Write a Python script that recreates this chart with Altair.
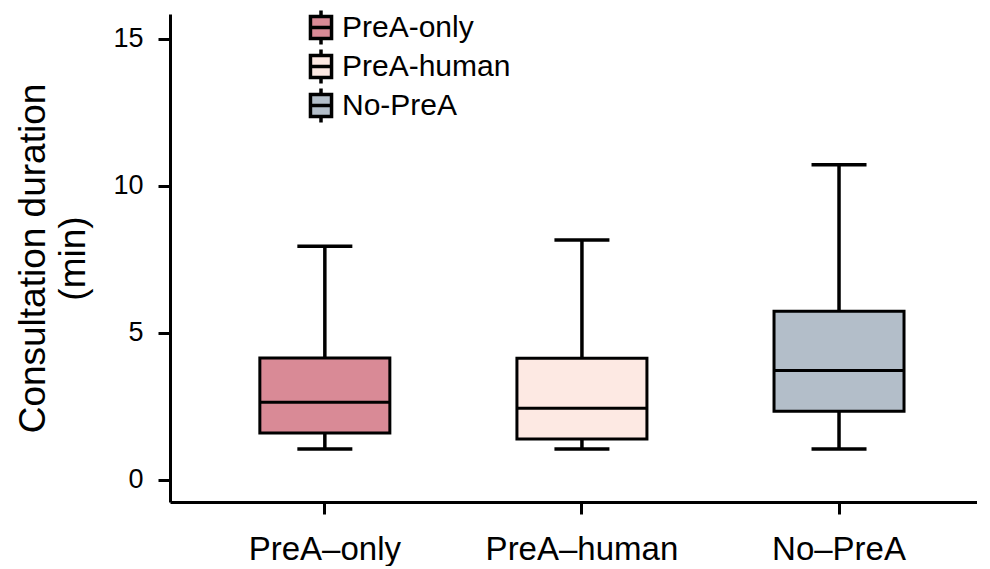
import altair as alt
import pandas as pd

groups = ["PreA-only", "PreA-human", "No-PreA"]
axis_labels = ["PreA\u2013only", "PreA\u2013human", "No\u2013PreA"]
lower = [1.05, 1.05, 1.05]
q1 = [1.6, 1.39, 2.34]
median = [2.64, 2.44, 3.72]
q3 = [4.15, 4.14, 5.74]
upper = [7.95, 8.16, 10.72]
colors = ["#d98a96", "#fde9e3", "#b3bec9"]

df = pd.DataFrame({"group": groups, "lower": lower, "q1": q1, "median": median,
                   "q3": q3, "upper": upper})

FONT = "Liberation Sans"
label_expr = ("datum.value == '%s' ? '%s' : datum.value == '%s' ? '%s' : '%s'"
              % (groups[0], axis_labels[0], groups[1], axis_labels[1], axis_labels[2]))

xscale = alt.Scale(domain=groups, paddingInner=0, paddingOuter=0.0695, align=0.736)
x = alt.X("group:N", scale=xscale, sort=groups,
          axis=alt.Axis(title=None, labelAngle=0, labelExpr=label_expr, labelFontSize=33,
                        labelFont=FONT, labelColor="black", labelPadding=19, labelLimit=400,
                        tickSize=12, tickWidth=3, tickColor="black",
                        domainWidth=3, domainColor="black"))
yscale = alt.Scale(domain=[-0.75, 15.85], nice=False, zero=False)

base = alt.Chart(df)

whisk = base.mark_rule(color="black", strokeWidth=3.5).encode(
    x=x,
    y=alt.Y("lower:Q", scale=yscale,
            axis=alt.Axis(title=["Consultation duration", "(min)"], values=[0, 5, 10, 15],
                          grid=False, labelFontSize=27, labelFont=FONT, labelColor="black",
                          labelPadding=15, tickSize=12, tickWidth=3, tickColor="black",
                          domainWidth=3, domainColor="black",
                          titleFont=FONT, titleFontSize=37, titleFontWeight="normal",
                          titleColor="black", titleLineHeight=40, titlePadding=20)),
    y2="upper:Q",
)
cap_lo = base.mark_tick(color="black", size=55, thickness=3.5, opacity=1).encode(
    x=x, y=alt.Y("lower:Q", scale=yscale))
cap_hi = base.mark_tick(color="black", size=55, thickness=3.5, opacity=1).encode(
    x=x, y=alt.Y("upper:Q", scale=yscale))

legend = alt.Legend(
    title=None, orient="none", legendX=132, legendY=-6,
    symbolType="M0,-1V-0.64M-0.62,-0.64H0.62V0.64H-0.62ZM-0.62,0H0.62M0,0.64V1",
    symbolSize=1156, symbolStrokeColor="black", symbolStrokeWidth=3.5,
    symbolOpacity=1, labelFont=FONT, labelFontSize=30, labelColor="black",
    labelOffset=2, rowPadding=0, labelLimit=300, clipHeight=39,
)
box = base.mark_bar(stroke="black", strokeWidth=3, size=130, opacity=1).encode(
    x=x, y=alt.Y("q1:Q", scale=yscale), y2="q3:Q",
    fill=alt.Fill("group:N", scale=alt.Scale(domain=groups, range=colors),
                  sort=groups, legend=legend),
)
med = base.mark_tick(color="black", size=130, thickness=3, opacity=1).encode(
    x=x, y=alt.Y("median:Q", scale=yscale))

chart = alt.layer(whisk, cap_lo, cap_hi, box, med).properties(
    width=807, height=488, padding={"left": 6, "top": 0, "right": 0, "bottom": 0}
).configure_view(stroke=None)

chart.save("out.html", embed_options={"renderer": "svg", "actions": False})
